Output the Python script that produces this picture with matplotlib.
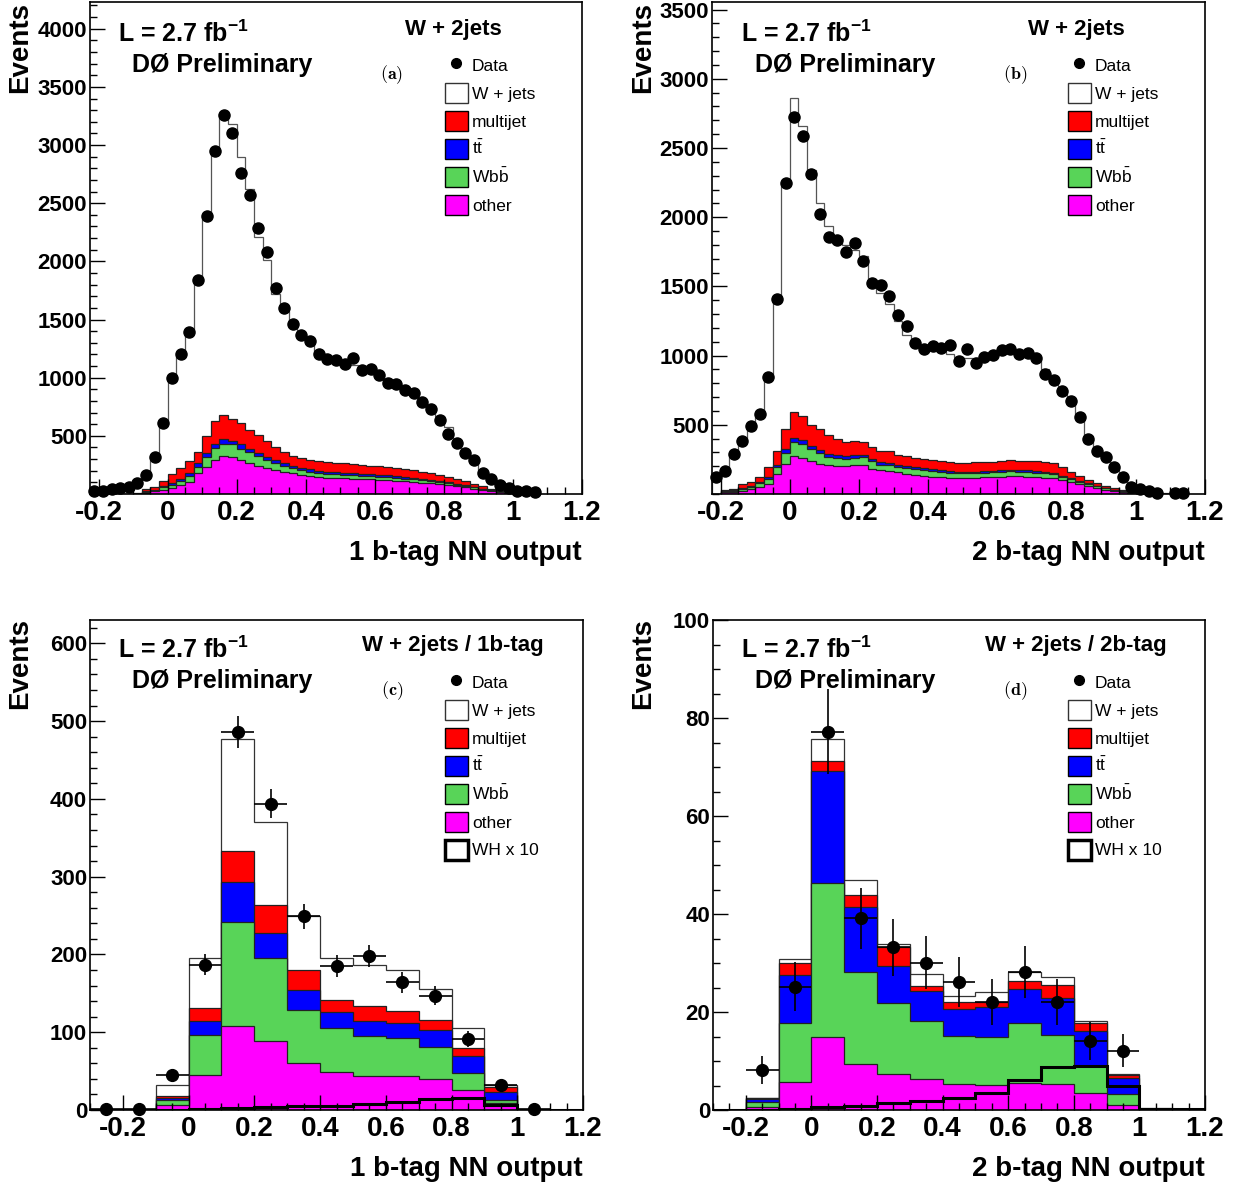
import numpy as np
import matplotlib
matplotlib.use("Agg")
import matplotlib.pyplot as plt
from matplotlib.lines import Line2D
from matplotlib.patches import Patch
from matplotlib.ticker import MultipleLocator

W, H = 1242, 1188

plt.rcParams["font.family"] = ["Liberation Sans", "DejaVu Sans"]
plt.rcParams["mathtext.fontset"] = "custom"
plt.rcParams["mathtext.rm"] = "Liberation Sans"
plt.rcParams["mathtext.bf"] = "Liberation Sans:bold"
plt.rcParams["axes.unicode_minus"] = False

RED, BLUE, GREEN, MAGENTA = "#ff0000", "#0000ff", "#58d458", "#ff00ff"
nan = np.nan

# ---- (a) W + 2jets, 1 b-tag, bins of 0.025 from -0.225
a_data = [28, 24, 42, 50, 62, 92, 160, 315, 610, 1000, 1200, 1390, 1840, 2391, 2949, 3255, 3100, 2763,
          2569, 2283, 2077, 1769, 1600, 1463, 1369, 1314, 1206, 1163, 1149, 1114, 1169, 1069, 1077, 1020,
          954, 949, 891, 871, 791, 734, 634, 520, 440, 354, 291, 183, 129, 77, 49, 29, 29, 20]
a_other = [0, 0, 0, 0, 1, 2, 10, 22, 34, 49, 77, 106, 177, 234, 291, 326, 314, 291, 263, 243, 220, 206,
           191, 177, 163, 154, 143, 140, 137, 134, 131, 128, 125, 122, 118, 114, 109, 104, 98, 92, 85, 77,
           67, 57, 46, 35, 24, 14, 6, 2, 0, 0]
a_wbb = [0, 0, 0, 0, 0, 1, 6, 8, 23, 28, 34, 48, 57, 80, 106, 108, 112, 100, 94, 83, 71, 57, 52, 43, 43,
         37, 34, 32, 31, 30, 29, 28, 27, 26, 25, 24, 23, 22, 21, 19, 18, 16, 14, 12, 10, 8, 5, 3, 1, 0, 0, 0]
a_ttbar = [0, 0, 0, 0, 0, 0, 6, 6, 12, 14, 18, 23, 29, 35, 37, 37, 31, 35, 34, 28, 29, 28, 26, 20, 20, 20,
           23, 21, 20, 20, 19, 19, 18, 17, 17, 16, 15, 14, 13, 13, 11, 10, 9, 7, 6, 4, 3, 2, 1, 1, 0, 0]
a_multijet = [0, 0, 0, 1, 2, 5, 18, 21, 46, 79, 91, 108, 102, 151, 195, 206, 192, 185, 158, 152, 134, 115,
              94, 86, 80, 80, 83, 84, 82, 81, 79, 77, 75, 73, 70, 68, 66, 63, 60, 56, 52, 47, 40, 34, 28,
              21, 14, 9, 4, 1, 1, 0]
a_wjets = [28, 26, 40, 49, 59, 84, 128, 261, 490, 820, 970, 1115, 1465, 1890, 2321, 2588, 2536, 2289,
           2071, 1704, 1556, 1314, 1207, 1124, 1034, 999, 917, 893, 870, 860, 847, 833, 825, 787, 745,
           723, 682, 657, 608, 555, 504, 425, 320, 255, 200, 122, 84, 47, 33, 21, 11, 6]

# ---- (b) W + 2jets, 2 b-tag
b_data = [124, 163, 292, 383, 488, 579, 844, 1412, 2249, 2725, 2589, 2309, 2022, 1859, 1835, 1752, 1811,
          1687, 1524, 1512, 1429, 1290, 1213, 1093, 1046, 1070, 1058, 1075, 962, 1046, 945, 991, 1005,
          1039, 1046, 1015, 1022, 981, 866, 826, 747, 670, 555, 395, 311, 268, 196, 124, 53, 36, 24, 8,
          nan, 7, 7]
b_other = [0, 12, 17, 24, 34, 48, 69, 148, 220, 273, 261, 237, 220, 208, 203, 201, 208, 213, 184, 170,
           165, 156, 148, 140, 132, 126, 121, 117, 115, 116, 118, 120, 122, 125, 128, 127, 126, 123, 119,
           112, 98, 84, 70, 56, 44, 32, 22, 14, 7, 3, 1, 0, 0, 0, 0]
b_wbb = [0, 5, 5, 12, 14, 29, 38, 48, 79, 103, 103, 86, 79, 60, 60, 55, 55, 55, 53, 43, 43, 40, 41, 40,
         40, 39, 37, 36, 35, 34, 34, 34, 34, 35, 35, 34, 33, 32, 32, 29, 26, 22, 18, 14, 11, 8, 6, 3, 2, 1,
         0, 0, 0, 0, 0]
b_ttbar = [0, 4, 6, 9, 10, 9, 15, 17, 29, 31, 29, 24, 22, 24, 22, 17, 17, 14, 17, 19, 17, 17, 14, 15, 14,
           13, 12, 11, 10, 10, 10, 10, 10, 10, 11, 11, 11, 11, 10, 10, 9, 8, 7, 6, 5, 4, 3, 2, 1, 0, 0, 0,
           0, 0, 0]
b_multijet = [0, 6, 11, 27, 28, 39, 71, 101, 144, 183, 172, 153, 148, 135, 115, 101, 101, 96, 85, 79, 85,
              72, 69, 65, 64, 65, 65, 64, 62, 66, 68, 68, 68, 66, 69, 68, 69, 71, 71, 71, 59, 46, 35, 26,
              20, 16, 13, 9, 4, 2, 1, 0, 0, 0, 0]
b_wjets = [110, 133, 251, 308, 394, 455, 647, 1086, 1768, 2270, 2095, 1840, 1631, 1508, 1450, 1426, 1379,
           1342, 1211, 1139, 1060, 965, 878, 840, 810, 807, 805, 782, 768, 759, 750, 753, 766, 784, 787,
           780, 771, 738, 668, 608, 558, 520, 430, 318, 250, 200, 146, 92, 51, 34, 23, 15, 10, 8, 6]

# ---- (c) W + 2jets / 1b-tag, bins of 0.1 from -0.3
c_data = [1, 1, 45, 187, 486, 394, 249, 185, 198, 164, 147, 91, 32, 1, nan]
c_err = [0, 0, 7, 14, 21, 19, 16, 14, 14, 13, 12, 10, 6, 0, 0]
c_other = [0, 0, 6.4, 45, 108, 89, 60, 49, 44, 44, 40, 26, 8.6, 0, 0]
c_wbb = [0, 0, 6.6, 51, 134, 107, 69, 56, 51, 48, 41, 22, 4.4, 0, 0]
c_ttbar = [0, 0, 3, 18, 51, 32, 25, 21, 20, 20, 22, 22, 10, 0, 0]
c_multijet = [0, 0, 2, 17, 40, 36, 26, 16, 19, 15, 13, 10, 6, 0, 0]
c_wjets = [0, 0, 14, 64, 144, 106, 69, 54, 53, 53, 40, 26, 3, 0, 0]
c_wh10 = [0, 0, 0.5, 1, 2.5, 4, 5, 5.5, 8, 10, 14, 15, 6.5, 0, 0]

# ---- (d) W + 2jets / 2b-tag
d_data = [nan, 8.2, 25.2, 77.2, 39.1, 33.2, 30.1, 26.1, 22.1, 28.1, 22.1, 14.1, 12.1, nan, nan]
d_err = [0, 2.8, 5, 8.7, 6.3, 5.8, 5.5, 5.1, 4.7, 5.3, 4.7, 3.8, 3.4, 0, 0]
d_other = [0, 0.7, 5.8, 14.8, 9.3, 7.3, 6.3, 5.3, 5.2, 5.6, 5.4, 3.4, 1.0, 0, 0]
d_wbb = [0, 0.9, 11.9, 31.5, 18.9, 14.6, 11.9, 9.9, 9.8, 12.1, 9.9, 5.6, 2.2, 0, 0]
d_ttbar = [0, 0.6, 9.9, 22.9, 13.3, 7.5, 6.1, 5.5, 6.0, 6.9, 7.6, 7.1, 3.3, 0, 0]
d_multijet = [0, 0.2, 2.3, 2.0, 2.4, 3.9, 1.1, 1.4, 1.1, 1.7, 2.7, 1.6, 0.6, 0, 0]
d_wjets = [0, 0.1, 0.9, 4.5, 3.0, 0.5, 2.3, 1.2, 1.9, 1.9, 1.5, 0.5, 0.2, 0.5, 0.3]
d_wh10 = [0, 0, 0.3, 0.7, 0.9, 1.4, 1.8, 2.4, 3.5, 6.1, 8.8, 9.0, 4.9, 0.3, 0.2]

XTICKS = [-0.2, 0, 0.2, 0.4, 0.6, 0.8, 1, 1.2]
XTICKLABELS = ["-0.2", "0", "0.2", "0.4", "0.6", "0.8", "1", "1.2"]


def px(x, y):
    return x / W, 1 - y / H


def edges_for(start, width, n):
    return start + width * np.arange(n + 1)


def draw_stack(ax, edges, other, wbb, ttbar, multijet, wjets, wjets_edge):
    layers = np.array([other, wbb, ttbar, multijet, wjets], dtype=float)
    tops = np.cumsum(layers, axis=0)
    colors = [MAGENTA, GREEN, BLUE, RED, "white"]
    for i in reversed(range(5)):
        ec = wjets_edge if i == 4 else "#222222"
        ax.stairs(tops[i], edges, fill=True, facecolor=colors[i], edgecolor=ec, linewidth=0.9)


def style(ax, ylim, yticks, yminor):
    ax.set_ylim(*ylim)
    ax.set_xticks(XTICKS, XTICKLABELS)
    ax.set_yticks(yticks, [str(v) for v in yticks])
    ax.xaxis.set_minor_locator(MultipleLocator(0.05))
    ax.yaxis.set_minor_locator(MultipleLocator(yminor))
    ax.tick_params(which="both", direction="in", top=False, right=False, width=1)
    ax.tick_params(which="major", length=11)
    ax.tick_params(which="minor", length=5)
    ax.tick_params(axis="x", labelsize=20, pad=4)
    ax.tick_params(axis="y", labelsize=16, pad=2)
    for lab in ax.get_xticklabels() + ax.get_yticklabels():
        lab.set_fontweight("bold")
    for sp in ax.spines.values():
        sp.set_linewidth(1.2)


def legend(ax, x, y, with_wh):
    handles = [Line2D([], [], marker="o", ls="none", color="black", ms=7),
               Patch(facecolor="white", edgecolor="#333333", lw=1),
               Patch(facecolor=RED, edgecolor="black", lw=1),
               Patch(facecolor=BLUE, edgecolor="black", lw=1),
               Patch(facecolor=GREEN, edgecolor="black", lw=1),
               Patch(facecolor=MAGENTA, edgecolor="black", lw=1)]
    labels = ["Data", "W + jets", "multijet", r"$\mathrm{t\bar{t}}$", r"$\mathrm{Wb\bar{b}}$", "other"]
    if with_wh:
        handles.append(Patch(facecolor="white", edgecolor="black", lw=2.5))
        labels.append("WH x 10")
    ax.legend(handles, labels, loc="upper left", bbox_to_anchor=px(x, y), bbox_transform=fig.transFigure,
              frameon=False, fontsize=12.5, handlelength=1.3, handleheight=1.4, labelspacing=0.45,
              handletextpad=0.25, borderpad=0, borderaxespad=0)


def annotate(x0, y0, right, title, tag, xlabel):
    # x0: left of the frame in pixels, y0: top of the frame in pixels
    fig.text(*px(x0 - 70, y0), "Events", rotation=90, ha="center", va="top", fontsize=20, fontweight="bold")
    fig.text(*px(x0 + 28, y0 + 40), r"L = 2.7 fb$^{\mathbf{-1}}$", ha="left", va="baseline",
             fontsize=18, fontweight="bold")
    fig.text(*px(x0 + 42, y0 + 70), "DØ Preliminary", ha="left", va="baseline", fontsize=18, fontweight="bold")
    fig.text(*px(x0 + 363, y0 + 33), title, ha="center", va="baseline", fontsize=16, fontweight="bold")
    fig.text(*px(x0 + 302, y0 + 73), r"$\mathbf{(%s)}$" % tag, ha="center", va="center", fontsize=13,
             math_fontfamily="cm")
    fig.text(*px(right, y0 + 558), xlabel, ha="right", va="baseline", fontsize=20, fontweight="bold")


fig = plt.figure(figsize=(W / 100, H / 100), dpi=100)

ax_a = fig.add_axes([90 / W, 1 - 494 / H, 492 / W, 492 / H])
ax_b = fig.add_axes([712 / W, 1 - 494 / H, 493 / W, 492 / H])
ax_c = fig.add_axes([90 / W, 1 - 1110 / H, 493 / W, 490 / H])
ax_d = fig.add_axes([713 / W, 1 - 1110 / H, 492 / W, 490 / H])

# top row: fine binning
for ax, data, comps, ylim, yticks, lx in [
        (ax_a, a_data, (a_other, a_wbb, a_ttbar, a_multijet, a_wjets), (0, 4230), list(range(500, 4001, 500)), 445),
        (ax_b, b_data, (b_other, b_wbb, b_ttbar, b_multijet, b_wjets), (0, 3555), list(range(500, 3501, 500)), 1068)]:
    edges = edges_for(-0.225, 0.025, len(data))
    centers = 0.5 * (edges[:-1] + edges[1:])
    draw_stack(ax, edges, *comps, wjets_edge="#555555")
    ax.plot(centers, data, "o", color="black", ms=8, clip_on=False, zorder=5)
    ax.set_xlim(-0.225, 1.2)
    style(ax, ylim, yticks, 100)
    legend(ax, lx, 55, False)

# bottom row: coarse binning with signal
for ax, data, err, comps, wh, ylim, yticks, yminor, lx in [
        (ax_c, c_data, c_err, (c_other, c_wbb, c_ttbar, c_multijet, c_wjets), c_wh10, (0, 630),
         list(range(0, 601, 100)), 20, 445),
        (ax_d, d_data, d_err, (d_other, d_wbb, d_ttbar, d_multijet, d_wjets), d_wh10, (0, 100),
         list(range(0, 101, 20)), 5, 1068)]:
    edges = edges_for(-0.3, 0.1, len(data))
    centers = 0.5 * (edges[:-1] + edges[1:])
    draw_stack(ax, edges, *comps, wjets_edge="#333333")
    ax.stairs(wh, edges, color="black", linewidth=2.2, zorder=4)
    ax.errorbar(centers, data, xerr=0.05, yerr=err, fmt="o", color="black", ms=8.5, elinewidth=1.2,
                capsize=0, clip_on=False, zorder=5)
    ax.set_xlim(-0.3, 1.2)
    style(ax, ylim, yticks, yminor)
    legend(ax, lx, 672, True)

annotate(90, 2, 582, "W + 2jets", "a", "1 b-tag NN output")
annotate(713, 2, 1205, "W + 2jets", "b", "2 b-tag NN output")
annotate(90, 618, 583, "W + 2jets / 1b-tag", "c", "1 b-tag NN output")
annotate(713, 618, 1205, "W + 2jets / 2b-tag", "d", "2 b-tag NN output")

fig.savefig("out.png", dpi=100)
